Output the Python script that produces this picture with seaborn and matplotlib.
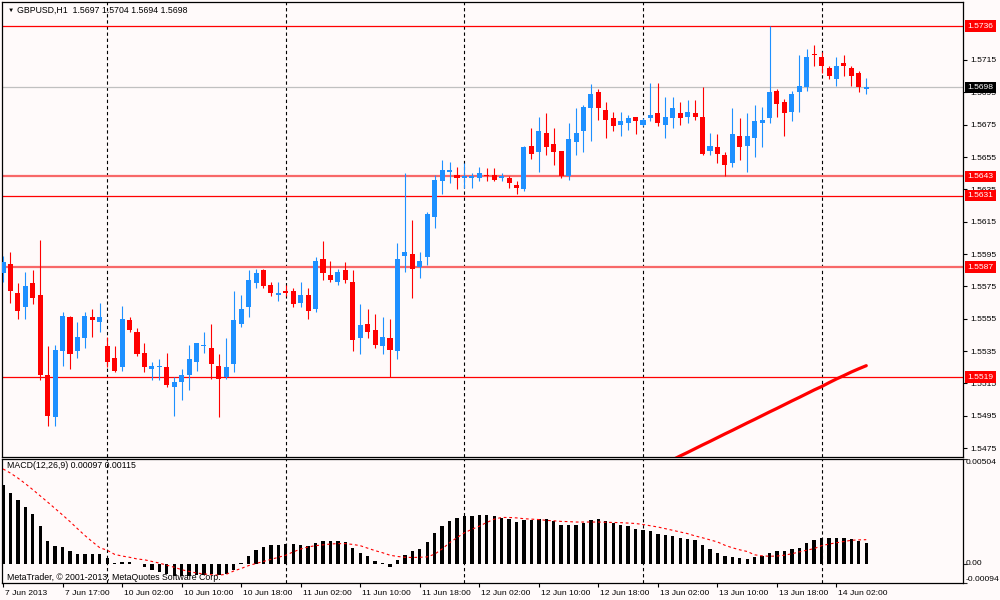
import matplotlib
matplotlib.use("Agg")
import matplotlib.pyplot as plt
import matplotlib.transforms as mtransforms
import numpy as np
import seaborn as sns

# GBPUSD H1, one candle per hour from 7 Jun 2013 09:00 to 14 Jun 2013 06:00
opens = [1.5583, 1.5589, 1.5571, 1.5562, 1.5577, 1.5570, 1.5520, 1.5494, 1.5535, 1.5556,
         1.5535, 1.5543, 1.5556, 1.5553, 1.5538, 1.5531, 1.5525, 1.5554, 1.5547, 1.5534,
         1.5524, 1.5525, 1.5525, 1.5513, 1.5516, 1.5520, 1.5528, 1.5538, 1.5537, 1.5526,
         1.5519, 1.5527, 1.5552, 1.5562, 1.5577, 1.5585, 1.5576, 1.5570, 1.5572, 1.5572,
         1.5565, 1.5570, 1.5561, 1.5592, 1.5582, 1.5578, 1.5585, 1.5578, 1.5543, 1.5552,
         1.5548, 1.5538, 1.5543, 1.5535, 1.5594, 1.5595, 1.5587, 1.5593, 1.5618, 1.5640,
         1.5646, 1.5644, 1.5642, 1.5642, 1.5642, 1.5644, 1.5644, 1.5642, 1.5642, 1.5638,
         1.5635, 1.5662, 1.5658, 1.5670, 1.5663, 1.5659, 1.5643, 1.5664, 1.5671, 1.5685,
         1.5695, 1.5684, 1.5679, 1.5675, 1.5676, 1.5680, 1.5675, 1.5679, 1.5682, 1.5675,
         1.5679, 1.5682, 1.5680, 1.5682, 1.5680, 1.5659, 1.5661, 1.5656, 1.5651, 1.5668,
         1.5662, 1.5667, 1.5676, 1.5679, 1.5696, 1.5689, 1.5683, 1.5695, 1.5698, 1.5719,
         1.5717, 1.5710, 1.5703, 1.5713, 1.5710, 1.5707, 1.5697]
highs = [1.5594, 1.5596, 1.5577, 1.5584, 1.5585, 1.5604, 1.5538, 1.5539, 1.5559, 1.5557,
         1.5553, 1.5559, 1.5561, 1.5565, 1.5544, 1.5538, 1.5563, 1.5556, 1.5549, 1.5540,
         1.5528, 1.5530, 1.5534, 1.5519, 1.5524, 1.5539, 1.5540, 1.5547, 1.5552, 1.5533,
         1.5543, 1.5572, 1.5570, 1.5585, 1.5586, 1.5586, 1.5578, 1.5578, 1.5576, 1.5574,
         1.5578, 1.5574, 1.5593, 1.5603, 1.5591, 1.5586, 1.5590, 1.5585, 1.5564, 1.5561,
         1.5558, 1.5556, 1.5555, 1.5602, 1.5645, 1.5616, 1.5596, 1.5621, 1.5644, 1.5653,
         1.5652, 1.5649, 1.5651, 1.5645, 1.5649, 1.5648, 1.5648, 1.5645, 1.5643, 1.5640,
         1.5662, 1.5673, 1.5680, 1.5682, 1.5673, 1.5659, 1.5676, 1.5685, 1.5687, 1.5700,
         1.5697, 1.5689, 1.5683, 1.5683, 1.5681, 1.5680, 1.5679, 1.5701, 1.5701, 1.5692,
         1.5692, 1.5689, 1.5690, 1.5690, 1.5698, 1.5670, 1.5669, 1.5658, 1.5685, 1.5679,
         1.5682, 1.5687, 1.5686, 1.5736, 1.5697, 1.5691, 1.5696, 1.5718, 1.5722, 1.5724,
         1.5720, 1.5711, 1.5717, 1.5718, 1.5711, 1.5708, 1.5704]
lows = [1.5578, 1.5565, 1.5555, 1.5555, 1.5564, 1.5517, 1.5489, 1.5489, 1.5526, 1.5524,
        1.5531, 1.5537, 1.5544, 1.5547, 1.5525, 1.5522, 1.5523, 1.5547, 1.5532, 1.5522,
        1.5517, 1.5517, 1.5513, 1.5495, 1.5505, 1.5511, 1.5523, 1.5534, 1.5518, 1.5494,
        1.5518, 1.5522, 1.5550, 1.5556, 1.5574, 1.5574, 1.5569, 1.5566, 1.5569, 1.5562,
        1.5562, 1.5555, 1.5559, 1.5579, 1.5578, 1.5576, 1.5577, 1.5535, 1.5533, 1.5543,
        1.5537, 1.5533, 1.5519, 1.5530, 1.5584, 1.5568, 1.5580, 1.5588, 1.5611, 1.5632,
        1.5639, 1.5635, 1.5636, 1.5636, 1.5640, 1.5640, 1.5640, 1.5640, 1.5636, 1.5632,
        1.5634, 1.5654, 1.5646, 1.5656, 1.5650, 1.5642, 1.5641, 1.5656, 1.5658, 1.5665,
        1.5678, 1.5667, 1.5671, 1.5668, 1.5672, 1.5669, 1.5674, 1.5677, 1.5674, 1.5667,
        1.5673, 1.5675, 1.5676, 1.5678, 1.5656, 1.5656, 1.5651, 1.5643, 1.5649, 1.5653,
        1.5646, 1.5655, 1.5661, 1.5676, 1.5680, 1.5668, 1.5677, 1.5683, 1.5696, 1.5711,
        1.5707, 1.5703, 1.5699, 1.5705, 1.5699, 1.5695, 1.5694]
closes = [1.5590, 1.5572, 1.5560, 1.5575, 1.5568, 1.5520, 1.5495, 1.5536, 1.5557, 1.5533,
          1.5544, 1.5557, 1.5554, 1.5556, 1.5528, 1.5523, 1.5555, 1.5548, 1.5533, 1.5525,
          1.5526, 1.5526, 1.5514, 1.5516, 1.5520, 1.5530, 1.5540, 1.5539, 1.5527, 1.5518,
          1.5525, 1.5554, 1.5561, 1.5579, 1.5583, 1.5575, 1.5571, 1.5571, 1.5571, 1.5564,
          1.5570, 1.5560, 1.5591, 1.5583, 1.5579, 1.5584, 1.5579, 1.5542, 1.5551, 1.5547,
          1.5539, 1.5544, 1.5536, 1.5592, 1.5596, 1.5586, 1.5591, 1.5620, 1.5641, 1.5647,
          1.5647, 1.5642, 1.5643, 1.5643, 1.5645, 1.5643, 1.5641, 1.5643, 1.5639, 1.5636,
          1.5661, 1.5657, 1.5671, 1.5661, 1.5658, 1.5643, 1.5666, 1.5670, 1.5686, 1.5694,
          1.5685, 1.5678, 1.5674, 1.5677, 1.5679, 1.5677, 1.5678, 1.5681, 1.5676, 1.5680,
          1.5685, 1.5679, 1.5683, 1.5680, 1.5657, 1.5662, 1.5657, 1.5650, 1.5669, 1.5661,
          1.5668, 1.5677, 1.5678, 1.5695, 1.5688, 1.5682, 1.5694, 1.5699, 1.5717, 1.5718,
          1.5711, 1.5705, 1.5711, 1.5711, 1.5705, 1.5698, 1.5698]

# MACD(12,26,9) histogram and signal line
macd_hist = [0.00379, 0.00339, 0.00304, 0.00272, 0.00240, 0.00179, 0.00107, 0.00083, 0.00080, 0.00058,
             0.00048, 0.00048, 0.00048, 0.00048, 0.00027, 0.00003, 0.00008, 0.00008, -0.00003, -0.00019,
             -0.00029, -0.00040, -0.00051, -0.00061, -0.00061, -0.00061, -0.00056, -0.00053, -0.00051, -0.00056,
             -0.00051, -0.00029, 0.00002, 0.00035, 0.00067, 0.00080, 0.00088, 0.00091, 0.00096, 0.00093,
             0.00091, 0.00083, 0.00099, 0.00107, 0.00107, 0.00110, 0.00104, 0.00075, 0.00053, 0.00035,
             0.00013, 0.00003, -0.00016, 0.00019, 0.00043, 0.00059, 0.00069, 0.00104, 0.00147, 0.00179,
             0.00205, 0.00219, 0.00227, 0.00230, 0.00235, 0.00235, 0.00227, 0.00219, 0.00213, 0.00200,
             0.00208, 0.00208, 0.00216, 0.00213, 0.00205, 0.00184, 0.00184, 0.00184, 0.00197, 0.00211,
             0.00213, 0.00203, 0.00195, 0.00184, 0.00179, 0.00168, 0.00160, 0.00155, 0.00144, 0.00136,
             0.00131, 0.00123, 0.00117, 0.00115, 0.00088, 0.00069, 0.00051, 0.00035, 0.00029, 0.00027,
             0.00024, 0.00032, 0.00035, 0.00051, 0.00061, 0.00061, 0.00069, 0.00077, 0.00099, 0.00112,
             0.00125, 0.00123, 0.00123, 0.00123, 0.00120, 0.00109, 0.00097]
macd_signal = [0.00456, 0.00436, 0.00412, 0.00385, 0.00356, 0.00326, 0.00296, 0.00265, 0.00234, 0.00202,
               0.00168, 0.00135, 0.00105, 0.00076, 0.00064, 0.00044, 0.00036, 0.00030, 0.00022, 0.00018,
               0.00010, 0.00002, -0.00008, -0.00018, -0.00030, -0.00038, -0.00046, -0.00050, -0.00054, -0.00056,
               -0.00052, -0.00036, -0.00024, -0.00010, 0.00000, 0.00010, 0.00020, 0.00030, 0.00040, 0.00056,
               0.00070, 0.00080, 0.00086, 0.00090, 0.00094, 0.00096, 0.00096, 0.00092, 0.00086, 0.00074,
               0.00062, 0.00052, 0.00040, 0.00034, 0.00030, 0.00029, 0.00030, 0.00032, 0.00045, 0.00070,
               0.00100, 0.00125, 0.00148, 0.00165, 0.00180, 0.00198, 0.00214, 0.00222, 0.00222, 0.00220,
               0.00216, 0.00214, 0.00212, 0.00208, 0.00206, 0.00203, 0.00202, 0.00200, 0.00200, 0.00200,
               0.00200, 0.00199, 0.00198, 0.00197, 0.00195, 0.00193, 0.00188, 0.00182, 0.00176, 0.00168,
               0.00160, 0.00152, 0.00144, 0.00133, 0.00124, 0.00114, 0.00104, 0.00088, 0.00076, 0.00066,
               0.00058, 0.00042, 0.00037, 0.00035, 0.00036, 0.00040, 0.00047, 0.00056, 0.00064, 0.00072,
               0.00086, 0.00094, 0.00100, 0.00106, 0.00112, 0.00114, 0.00115]

# thick red line in the lower right, from bar 88 on (starts below the visible range)
trend_first_bar = 88
trend_vals = [1.54634, 1.54656, 1.54679, 1.54702, 1.54724, 1.54747, 1.54770, 1.54792, 1.54815,
              1.54838, 1.54860, 1.54883, 1.54906, 1.54928, 1.54951, 1.54974, 1.54996, 1.55019,
              1.55042, 1.55064, 1.55087, 1.55110, 1.55131, 1.55155, 1.55178, 1.55199, 1.55221,
              1.55241, 1.55260]

thin_levels = [1.5736, 1.5631, 1.5519]
thick_levels = [1.5643, 1.5587]
bid = 1.5698

price_ticks = [1.5475, 1.5495, 1.5515, 1.5535, 1.5555, 1.5575, 1.5595, 1.5615,
               1.5635, 1.5655, 1.5675, 1.5695, 1.5715]
macd_ticks = [-0.00094, 0.0, 0.00504]
macd_tick_labels = ['-0.00094', '0.00', '0.00504']

tick_bars = [0, 8, 16, 24, 32, 40, 48, 56, 64, 72, 80, 88, 96, 104, 112]
tick_labels = ['7 Jun 2013', '7 Jun 17:00', '10 Jun 02:00', '10 Jun 10:00', '10 Jun 18:00',
               '11 Jun 02:00', '11 Jun 10:00', '11 Jun 18:00', '12 Jun 02:00', '12 Jun 10:00',
               '12 Jun 18:00', '13 Jun 02:00', '13 Jun 10:00', '13 Jun 18:00', '14 Jun 02:00']
day_breaks = [14, 38, 62, 86, 110]

BG = '#fffafa'
BULL = '#1e90ff'
BEAR = '#ff0000'
FS = 6.1

sns.set_theme(style='white', rc={'axes.facecolor': BG, 'figure.facecolor': BG,
                                 'axes.edgecolor': 'black', 'axes.linewidth': 0.9})
plt.rcParams['font.family'] = ['Liberation Sans', 'DejaVu Sans']

fig = plt.figure(figsize=(10, 6), dpi=100)
ax = fig.add_axes([0.002, 0.23833, 0.961, 0.75833])
ax2 = fig.add_axes([0.002, 0.02833, 0.961, 0.20667])

x = np.arange(len(opens))
o = np.array(opens)
h = np.array(highs)
l = np.array(lows)
c = np.array(closes)
cols = np.where(c >= o, BULL, BEAR)

# candles
ax.vlines(x, l, h, colors=cols, lw=0.8, zorder=3)
ax.bar(x, np.maximum(np.abs(c - o), 0.00006), bottom=np.minimum(o, c), width=0.68,
       color=cols, lw=0, zorder=4)

# levels
for lv in thin_levels:
    ax.axhline(lv, color='#ff0000', lw=0.9, zorder=2)
for lv in thick_levels:
    ax.axhline(lv, color='#f86868', lw=1.6, zorder=2)
ax.axhline(bid, color='#c0c0c0', lw=0.9, zorder=2)

trend_x = np.arange(trend_first_bar, trend_first_bar + len(trend_vals))
sns.lineplot(x=trend_x, y=trend_vals, ax=ax, color='#ff0000', lw=2.3, zorder=5)

# MACD
ax2.bar(x, macd_hist, width=0.45, color='black', lw=0, zorder=3)
sns.lineplot(x=x, y=macd_signal, ax=ax2, color='#ff0000', lw=0.8,
             linestyle=(0, (2.5, 2.5)), zorder=4)

for a in (ax, ax2):
    a.set_xlim(-0.14, 129.0)
    for b in day_breaks:
        a.axvline(b, color='black', lw=0.8, ls=(0, (3, 2.5)), zorder=1)
    for s in a.spines.values():
        s.set_color('black')
        s.set_linewidth(0.9)
    a.set_xlabel('')
    a.set_ylabel('')

ax.set_ylim(1.546954, 1.575084)
ax2.set_ylim(-0.00094, 0.00504)

ax.yaxis.tick_right()
ax.set_yticks(price_ticks)
ax.set_yticklabels([f'{v:.4f}' for v in price_ticks])
ax.set_xticks([])
ax.tick_params(axis='y', direction='out', length=3, width=0.8, pad=2,
               labelsize=FS, colors='black', right=True, left=False)

ax2.yaxis.tick_right()
ax2.set_yticks(macd_ticks)
ax2.set_yticklabels([])
ax2.tick_params(axis='y', direction='out', length=3, width=0.8, right=True, left=False)
ax2.set_xticks(tick_bars)
ax2.set_xticklabels(tick_labels, ha='left')
ax2.tick_params(axis='x', direction='out', length=3, width=0.8, pad=2,
                labelsize=FS, colors='black', bottom=True)
off = mtransforms.ScaledTranslation(2 / 100, 0, fig.dpi_scale_trans)
for lab in ax2.get_xticklabels():
    lab.set_transform(lab.get_transform() + off)

# MACD scale labels
tr2 = mtransforms.blended_transform_factory(ax2.transAxes, ax2.transData)
vas = ['bottom', 'center', 'top']
for v, t, va in zip(macd_ticks, macd_tick_labels, vas):
    ax2.text(1.003, v, t, transform=tr2, ha='left', va=va, fontsize=FS,
             color='black', clip_on=False)

# price boxes on the right scale
tr = mtransforms.blended_transform_factory(ax.transAxes, ax.transData)
for lv in thin_levels + thick_levels:
    ax.text(1.0047, lv, f'{lv:.4f}', transform=tr, ha='left', va='center', fontsize=FS,
            color='white', clip_on=False, zorder=10,
            bbox=dict(boxstyle='square,pad=0.25', fc='#ff0000', ec='none'))
ax.text(1.0047, bid, f'{bid:.4f}', transform=tr, ha='left', va='center', fontsize=FS,
        color='white', clip_on=False, zorder=10,
        bbox=dict(boxstyle='square,pad=0.25', fc='black', ec='none'))

# header texts
fig.text(0.0075, 1 - 10 / 600, '▼', fontsize=4.5, va='center', ha='left', color='black')
fig.text(0.017, 1 - 10 / 600, 'GBPUSD,H1  1.5697 1.5704 1.5694 1.5698', fontsize=FS + 0.2,
         va='center', ha='left', color='black')
fig.text(0.007, 1 - 466 / 600, 'MACD(12,26,9) 0.00097 0.00115', fontsize=FS + 0.2,
         va='center', ha='left', color='black')
fig.text(0.007, 1 - 577 / 600, 'MetaTrader, © 2001-2013, MetaQuotes Software Corp.',
         fontsize=FS + 0.2, va='center', ha='left', color='black')

fig.savefig('out.png', dpi=100, facecolor=BG)
